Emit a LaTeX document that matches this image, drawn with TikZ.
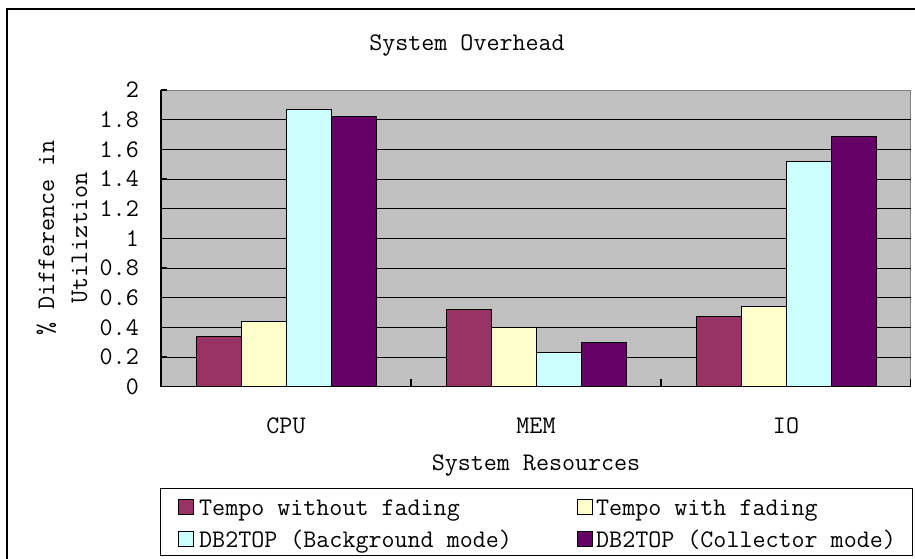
\documentclass[tikz,border=0pt]{standalone}
\usepackage{fontspec}
\definecolor{plotgray}{HTML}{C0C0C0}
\definecolor{plotedge}{HTML}{808080}
\definecolor{serA}{HTML}{993366}
\definecolor{serB}{HTML}{FFFFCC}
\definecolor{serC}{HTML}{CCFFFF}
\definecolor{serD}{HTML}{660066}
% value -> vertical position in the plot area
\newcommand\valy[1]{386.7-(#1)*148.33}
\begin{document}
\begin{tikzpicture}[x=1pt,y=-1pt,
  font=\ttfamily\fontsize{25.3}{30}\selectfont,
  txt/.style={inner sep=0pt, text=black},
  bar/.style={draw=black, line width=1pt},
  grid line/.style={black, line width=1pt},
  legsq/.style={draw=black, line width=1pt}]
\clip (0,0) rectangle (915,558);
\fill[white] (0,0) rectangle (915,558);

% chart frame
\draw[line width=1.3pt] (7,9) rectangle (935,580);

% plot area
\fill[plotgray] (161,90) rectangle (910.5,386.7);
\draw[plotedge, line width=1pt] (161,90) -- (910.5,90) -- (910.5,386.7);
\foreach \v in {0.2,0.4,0.6,0.8,1.0,1.2,1.4,1.6,1.8}
  \draw[grid line] (161,{\valy{\v}}) -- (910.5,{\valy{\v}});

% bars: category / four series values
\foreach \c/\a/\b/\s/\d in {0/0.34/0.44/1.87/1.82, 1/0.52/0.40/0.23/0.30, 2/0.47/0.54/1.52/1.69}{
  \pgfmathsetmacro\L{161+250*\c+35}
  \draw[bar, fill=serA] (\L,386.7) rectangle ({\L+45},{\valy{\a}});
  \draw[bar, fill=serB] ({\L+45},386.7) rectangle ({\L+90},{\valy{\b}});
  \draw[bar, fill=serC] ({\L+90},386.7) rectangle ({\L+135},{\valy{\s}});
  \draw[bar, fill=serD] ({\L+135},386.7) rectangle ({\L+180},{\valy{\d}});
}

% axes and ticks
\draw[line width=1.2pt] (161,90) -- (161,386.7) -- (910.5,386.7);
\foreach \v in {0,0.2,0.4,0.6,0.8,1.0,1.2,1.4,1.6,1.8,2.0}
  \draw[line width=1.2pt] (161,{\valy{\v}}) -- (167,{\valy{\v}});
\foreach \x in {161,411,661,910.5}
  \draw[line width=1.2pt] (\x,386.7) -- (\x,379);

% value axis labels
\foreach \v/\t [count=\i] in {0/0,0.2/0.2,0.4/0.4,0.6/0.6,0.8/0.8,1/1,1.2/1.2,1.4/1.4,1.6/1.6,1.8/1.8,2/2}
  \node[txt, anchor=east] (ytick\i) at (139,{\valy{\v}}) {\t};

% category labels
\node[txt, anchor=base] (catCPU) at (286,433) {CPU};
\node[txt, anchor=base] (catMEM) at (536,433) {MEM};
\node[txt, anchor=base] (catIO)  at (786,433) {IO};

% titles
\node[txt, anchor=base] (title) at (467,50) {System Overhead};
\node[txt, anchor=base] (xtitle) at (536,470) {System Resources};
\node[txt, anchor=base, rotate=90] (ytitleA) at (54,238) {\% Difference in};
\node[txt, anchor=base, rotate=90] (ytitleB) at (87,238) {Utiliztion};

% legend
\draw[line width=1pt, fill=white] (160,488) rectangle (912,555);
\draw[legsq, fill=serA] (178.5,499.5) rectangle +(15,15);
\draw[legsq, fill=serC] (178.5,531.5) rectangle +(15,15);
\draw[legsq, fill=serB] (577.5,499.5) rectangle +(15,15);
\draw[legsq, fill=serD] (577.5,531.5) rectangle +(15,15);
\node[txt, anchor=base west] (legA) at (199,515) {Tempo without fading};
\node[txt, anchor=base west] (legC) at (199,547) {DB2TOP (Background mode)};
\node[txt, anchor=base west] (legB) at (596,515) {Tempo with fading};
\node[txt, anchor=base west] (legD) at (596,547) {DB2TOP (Collector mode)};
\end{tikzpicture}
\end{document}
